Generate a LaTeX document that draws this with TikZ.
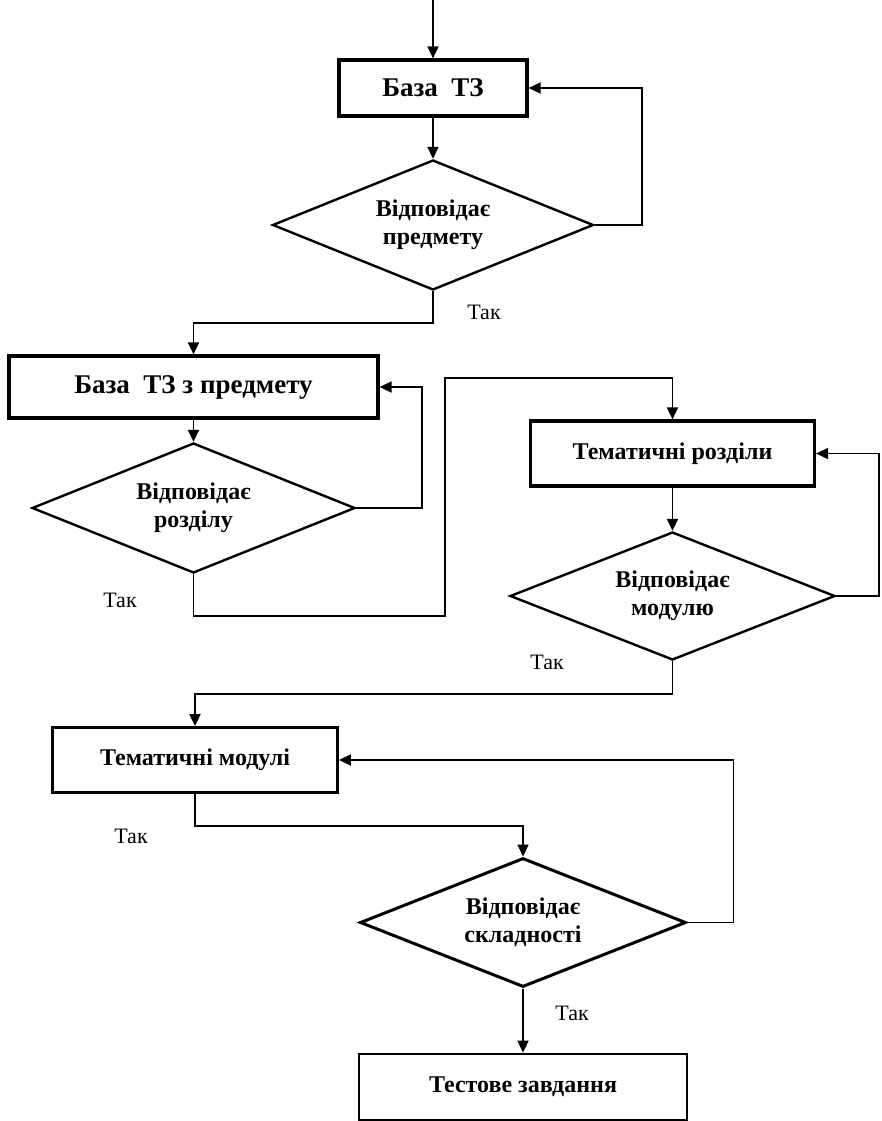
\documentclass[tikz,border=0pt]{standalone}
\usepackage{fontspec}
\setmainfont{Liberation Serif}
\usetikzlibrary{shapes.geometric,arrows.meta}
\tikzset{
  stepbox/.style={draw, line width=3.2pt, rectangle, inner sep=0pt,
    font=\bfseries\fontsize{24}{28}\selectfont},
  bigtext/.style={font=\bfseries\fontsize{27}{30}\selectfont},
  check/.style={draw, line width=2.4pt, diamond, aspect=2.5, inner sep=0pt, align=center,
    font=\bfseries\fontsize{24}{28}\selectfont},
  flow/.style={line width=1.8pt, -{Triangle[length=12pt,width=11pt]}},
  yes/.style={font=\fontsize{22}{24}\selectfont}
}
\begin{document}
\begin{tikzpicture}[x=1pt,y=-1pt]
\useasboundingbox (0,0) rectangle (881,1121);
\fill[white] (0,0) rectangle (881,1121);

% process boxes
\node[stepbox, bigtext, minimum width=188pt, minimum height=56pt] (b1) at (433,88) {База\ \ ТЗ};
\node[stepbox, bigtext, minimum width=369pt, minimum height=62pt] (b2) at (193.5,387) {База\ \ ТЗ\ з предмету};
\node[stepbox, minimum width=284pt, minimum height=65pt] (b3) at (672.5,453.5) {Тематичні розділи};
\node[stepbox, line width=2.8pt, minimum width=285pt, minimum height=65pt] (b4) at (195,760) {Тематичні модулі};
\node[stepbox, line width=2.8pt, minimum width=328pt, minimum height=66pt] (b5) at (523,1087) {Тестове завдання};

% decisions
\node[check, minimum width=321pt, minimum height=130pt] (d1) at (433,225) {Відповідає\\предмету};
\node[check, minimum width=323pt, minimum height=130pt] (d2) at (193.5,508) {Відповідає\\розділу};
\node[check, minimum width=325pt, minimum height=128pt] (d3) at (672.5,596) {Відповідає\\модулю};
\node[check, line width=3pt, minimum width=326pt, minimum height=129pt] (d4) at (523,922.5) {Відповідає\\складності};

% answer labels
\node[yes] (t1) at (484,312) {Так};
\node[yes] (t2) at (120,600) {Так};
\node[yes] (t3) at (547,662) {Так};
\node[yes] (t4) at (131,836) {Так};
\node[yes] (t5) at (572,1013) {Так};

% connectors
\coordinate (in) at (433,0);
\draw[flow] (in) -- (b1.north);
\draw[flow] (b1.south) -- (d1.north);
\draw[flow] (d1.east) -- ++(47,0) |- (b1.east);
\draw[flow] (d1.south) -- ++(0,32) -| (b2.north);

\draw[flow] (b2.south) -- (d2.north);
\draw[flow] (d2.east) -- ++(66,0) |- (b2.east);
\coordinate (j1) at (445,616);
\coordinate (j2) at (445,378);
\draw[flow] (d2.south) |- (j1) -- (j2) -| (b3.north);

\draw[flow] (b3.south) -- (d3.north);
\draw[flow] (d3.east) -- ++(43,0) |- (b3.east);
\draw[flow] (d3.south) -- ++(0,33) -| (b4.north);

\draw[flow] (b4.south) -- ++(0,32) -| (d4.north);
\draw[flow] (d4.east) -- ++(46,0) |- (b4.east);
\draw[flow] (d4.south) -- (b5.north);
\end{tikzpicture}
\end{document}
